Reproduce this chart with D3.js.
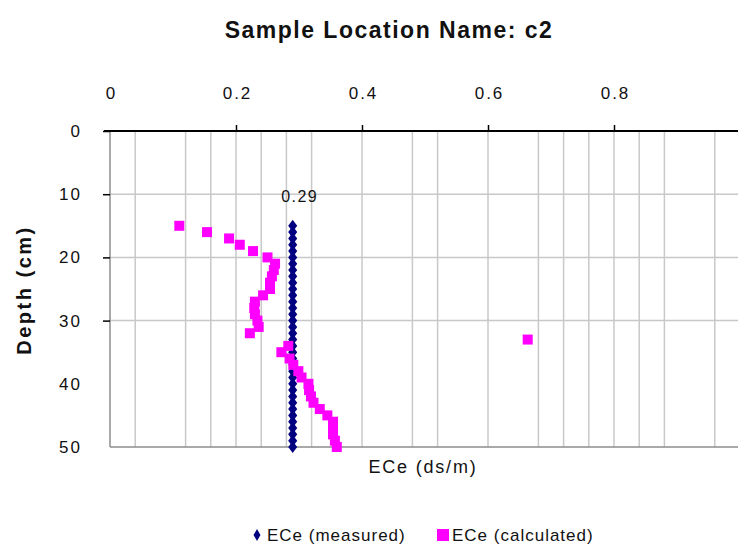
<!DOCTYPE html>
<html>
<head>
<meta charset="utf-8">
<script src="https://cdn.jsdelivr.net/npm/d3@7"></script>
<style>
  body { margin: 0; background: #fff; }
  text { font-family: Arial, "Liberation Sans", sans-serif; }
</style>
</head>
<body>
<script>
//chart values
var depths = [15,16,17,18,19,20,21,22,23,24,25,26,27,28,29,30,31,32,33,34,35,36,37,38,39,40,41,42,43,44,45,46,47,48,49,50];
var measured = [0.29,0.29,0.29,0.29,0.29,0.29,0.29,0.29,0.29,0.29,0.29,0.29,0.29,0.29,0.29,0.29,0.29,0.29,0.29,0.29,0.29,0.29,0.29,0.29,0.29,0.29,0.29,0.29,0.29,0.29,0.29,0.29,0.29,0.29,0.29,0.29];
var calculated = [0.110,0.154,0.189,0.206,0.227,0.250,0.262,0.260,0.257,0.254,0.254,0.243,0.230,0.229,0.230,0.234,0.236,0.222,0.663,0.283,0.272,0.285,0.291,0.299,0.304,0.315,0.316,0.319,0.323,0.333,0.345,0.354,0.354,0.354,0.357,0.360];
var xTickLabels = [0, 0.2, 0.4, 0.6, 0.8];
var xGrid = [0.04,0.12,0.16,0.2,0.24,0.28,0.32,0.4,0.48,0.52,0.6,0.68,0.72,0.76,0.8,0.84,0.88,0.96];
var yTickLabels = [0, 10, 20, 30, 40, 50];
var yTicks = [0, 10, 20, 30];
var yGrid = [10, 20, 30];

window.onload = drawChart();

function drawChart(){
    var width = 738,
        height = 546;

    var svg = d3.select("body")
        .append("svg")
        .attr("width", width)
        .attr("height", height);

    var x = d3.scaleLinear().domain([0, 1]).range([110, 740]);
    var y = d3.scaleLinear().domain([0, 50]).range([131, 447]);

    //gridlines
    svg.selectAll(".vgrid")
        .data(xGrid)
        .enter()
        .append("line")
        .attr("x1", function(d){ return x(d); })
        .attr("x2", function(d){ return x(d); })
        .attr("y1", y(0))
        .attr("y2", y(50))
        .attr("stroke", "#c8c8c8")
        .attr("stroke-width", 1.5);

    svg.selectAll(".hgrid")
        .data(yGrid)
        .enter()
        .append("line")
        .attr("x1", x(0))
        .attr("x2", width)
        .attr("y1", function(d){ return y(d); })
        .attr("y2", function(d){ return y(d); })
        .attr("stroke", "#c8c8c8")
        .attr("stroke-width", 1.5);

    //frame: left and bottom in gray
    svg.append("line")
        .attr("x1", x(0)).attr("x2", x(0))
        .attr("y1", y(0)).attr("y2", y(50))
        .attr("stroke", "#8c8c8c").attr("stroke-width", 1.5);
    svg.append("line")
        .attr("x1", x(0)).attr("x2", width)
        .attr("y1", y(50)).attr("y2", y(50))
        .attr("stroke", "#8c8c8c").attr("stroke-width", 1.5);

    //top axis
    var topAxis = d3.axisTop(x)
        .tickValues(xTickLabels)
        .tickSize(6)
        .tickPadding(26)
        .tickFormat(function(d){ return d === 0 ? "0" : d3.format(".1f")(d); });

    var gTop = svg.append("g")
        .attr("transform", "translate(0," + y(0) + ")")
        .call(topAxis);
    gTop.select(".domain").remove();
    gTop.selectAll(".tick line")
        .attr("stroke", "#000")
        .attr("stroke-width", 1.5)
        .attr("opacity", function(d){ return d === 0 ? 0 : 1; });
    gTop.selectAll(".tick text")
        .attr("font-size", 17)
        .attr("letter-spacing", 2)
        .attr("dx", 1)
        .attr("fill", "#111")
        .attr("font-family", "Arial, 'Liberation Sans', sans-serif");
    svg.append("line")
        .attr("x1", x(0) - 6).attr("x2", width)
        .attr("y1", y(0)).attr("y2", y(0))
        .attr("stroke", "#000").attr("stroke-width", 2);

    //left axis
    var leftAxis = d3.axisLeft(y)
        .tickValues(yTickLabels)
        .tickSize(7)
        .tickPadding(21);

    var gLeft = svg.append("g")
        .attr("transform", "translate(" + x(0) + ",0)")
        .call(leftAxis);
    gLeft.select(".domain").remove();
    gLeft.selectAll(".tick line")
        .attr("stroke", "#000")
        .attr("stroke-width", 1.5)
        .attr("opacity", function(d){ return yTicks.indexOf(d) >= 0 ? 1 : 0; });
    gLeft.selectAll(".tick text")
        .attr("font-size", 17)
        .attr("letter-spacing", 2)
        .attr("fill", "#111")
        .attr("font-family", "Arial, 'Liberation Sans', sans-serif");

    //measured series (navy diamonds)
    var diamond = d3.symbol().type(d3.symbolDiamond).size(42);
    svg.selectAll(".measured")
        .data(depths)
        .enter()
        .append("path")
        .attr("d", diamond)
        .attr("transform", function(d, i){
            return "translate(" + x(measured[i]) + "," + y(d) + ") scale(1.3,1)";
        })
        .attr("fill", "#000080");

    //data label on first measured point
    svg.append("text")
        .attr("x", x(measured[0]) + 7)
        .attr("y", y(depths[0]) - 24)
        .attr("text-anchor", "middle")
        .attr("font-size", 16)
        .attr("letter-spacing", 1.5)
        .attr("fill", "#111")
        .text(measured[0]);

    //calculated series (magenta squares)
    svg.selectAll(".calc")
        .data(depths)
        .enter()
        .append("rect")
        .attr("x", function(d, i){ return x(calculated[i]) - 5; })
        .attr("y", function(d){ return y(d) - 5; })
        .attr("width", 10)
        .attr("height", 10)
        .attr("fill", "#ff00ff");

    //titles
    svg.append("text")
        .attr("x", 389)
        .attr("y", 38)
        .attr("text-anchor", "middle")
        .attr("font-size", 23)
        .attr("font-weight", "bold")
        .attr("letter-spacing", 1.5)
        .attr("fill", "#111")
        .text("Sample Location Name: c2");

    svg.append("text")
        .attr("x", 423)
        .attr("y", 473)
        .attr("text-anchor", "middle")
        .attr("font-size", 18)
        .attr("letter-spacing", 1.8)
        .attr("fill", "#111")
        .text("ECe (ds/m)");

    svg.append("text")
        .attr("transform", "translate(31,290) rotate(-90)")
        .attr("text-anchor", "middle")
        .attr("font-size", 20)
        .attr("font-weight", "bold")
        .attr("letter-spacing", 2.5)
        .attr("fill", "#111")
        .text("Depth (cm)");

    //legend
    var legend = svg.append("g");
    legend.append("path")
        .attr("d", diamond)
        .attr("transform", "translate(257,535)")
        .attr("fill", "#000080");
    legend.append("text")
        .attr("x", 267)
        .attr("y", 541)
        .attr("font-size", 17)
        .attr("letter-spacing", 1)
        .attr("fill", "#111")
        .text("ECe (measured)");
    legend.append("rect")
        .attr("x", 437)
        .attr("y", 529)
        .attr("width", 12)
        .attr("height", 12)
        .attr("fill", "#ff00ff");
    legend.append("text")
        .attr("x", 452)
        .attr("y", 541)
        .attr("font-size", 17)
        .attr("letter-spacing", 1)
        .attr("fill", "#111")
        .text("ECe (calculated)");
}
</script>
</body>
</html>
